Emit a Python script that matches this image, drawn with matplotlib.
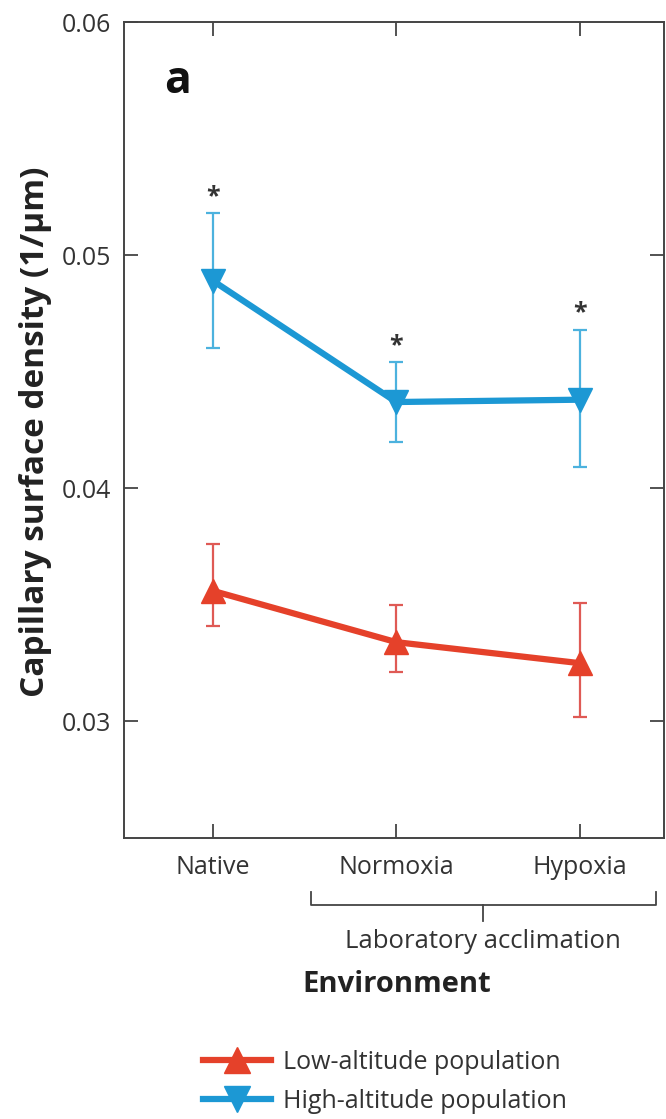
import matplotlib
matplotlib.use("Agg")
import matplotlib.pyplot as plt
from matplotlib.lines import Line2D

plt.rcParams['font.family'] = ['Open Sans', 'DejaVu Sans']

categories = ["Native", "Normoxia", "Hypoxia"]
low_mean = [0.0356, 0.0334, 0.0325]
low_upper = [0.0376, 0.0350, 0.0351]
low_lower = [0.0341, 0.0321, 0.0302]
high_mean = [0.0489, 0.0437, 0.0438]
high_upper = [0.0518, 0.0454, 0.0468]
high_lower = [0.0460, 0.0420, 0.0409]
significant = [True, True, True]
yticks = [0.03, 0.04, 0.05, 0.06]
ytick_labels = ["0.03", "0.04", "0.05", "0.06"]

red = "#e5412a"
red_err = "#df5a55"
blue = "#1c98d4"
blue_err = "#4cb2de"
W, H = 666, 1119

fig = plt.figure(figsize=(W / 100, H / 100), dpi=100)
ax_l, ax_r, ax_t, ax_b = 124, 664, 22, 838
ax = fig.add_axes([ax_l / W, 1 - ax_b / H, (ax_r - ax_l) / W, (ax_b - ax_t) / H])
AH = ax_b - ax_t

x = list(range(len(categories)))


def draw(mean, up, lo, color, ecolor, marker, label):
    yerr = [[m - l for m, l in zip(mean, lo)], [u - m for m, u in zip(mean, up)]]
    ax.errorbar(x, mean, yerr=yerr, fmt='none', ecolor=ecolor, elinewidth=1.6,
                capsize=5, capthick=1.6, zorder=2)
    ax.plot(x, mean, color=color, lw=4.5, marker=marker, ms=17, zorder=3, label=label)


draw(low_mean, low_upper, low_lower, red, red_err, '^', "Low-altitude population")
draw(high_mean, high_upper, high_lower, blue, blue_err, 'v', "High-altitude population")

for i, s in enumerate(significant):
    if s:
        ax.annotate("*", xy=(x[i], high_upper[i]), xytext=(0, 12),
                    textcoords='offset points', ha='center', va='center',
                    fontsize=18, color='#333333', fontweight='bold')

ax.set_xlim(-0.485, 2.46)
ax.set_ylim(0.025, 0.06)
ax.set_xticks(x)
ax.set_xticklabels(categories)
ax.set_yticks(yticks)
ax.set_yticklabels(ytick_labels)
ax.tick_params(direction='in', length=10, width=1.3, top=True, right=True,
               labelsize=18, colors='#444444', labelcolor='#333333')
ax.tick_params(axis='x', pad=12)
ax.tick_params(axis='y', pad=9)
for sp in ax.spines.values():
    sp.set_linewidth(1.4)
    sp.set_color('#444444')

fig.text(36 / W, 1 - 432 / H, "Capillary surface density (1/μm)", rotation=90,
         ha='center', va='center', fontsize=24, fontweight='bold', color='#222222')

ax.text((178 - ax_l) / (ax_r - ax_l), (ax_b - 93) / AH, "a", transform=ax.transAxes,
        fontsize=32, fontweight='bold', ha='center', va='baseline', color='#111111')

# Bracket for laboratory acclimation
tr = ax.get_xaxis_transform()
yb = -(905 - ax_b) / AH
ytop = -(892 - ax_b) / AH
ytick = -(921 - ax_b) / AH
bx0, bx1 = 0.535, 2.415
bc = (bx0 + bx1) / 2
ax.add_line(Line2D([bx0, bx0, bx1, bx1], [ytop, yb, yb, ytop], transform=tr,
                   color='#444444', lw=1.3, clip_on=False))
ax.add_line(Line2D([bc, bc], [yb, ytick], transform=tr,
                   color='#444444', lw=1.3, clip_on=False))
ax.text(bc, -(942 - ax_b) / AH, "Laboratory acclimation", transform=tr, ha='center',
        va='center', fontsize=18.5, color='#333333')
ax.text(1.0, -(985 - ax_b) / AH, "Environment", transform=tr, ha='center',
        va='center', fontsize=21, fontweight='bold', color='#222222')

handles = [Line2D([], [], color=red, lw=4.5, marker='^', ms=19),
           Line2D([], [], color=blue, lw=4.5, marker='v', ms=19)]
fig.legend(handles, ["Low-altitude population", "High-altitude population"],
           loc='upper left', bbox_to_anchor=(203 / W, 1 - 1050 / H), frameon=False,
           fontsize=18, handlelength=2.7, labelspacing=0.55, handletextpad=0.5,
           borderpad=0, borderaxespad=0, labelcolor='#333333')

fig.savefig("out.png", dpi=100)
